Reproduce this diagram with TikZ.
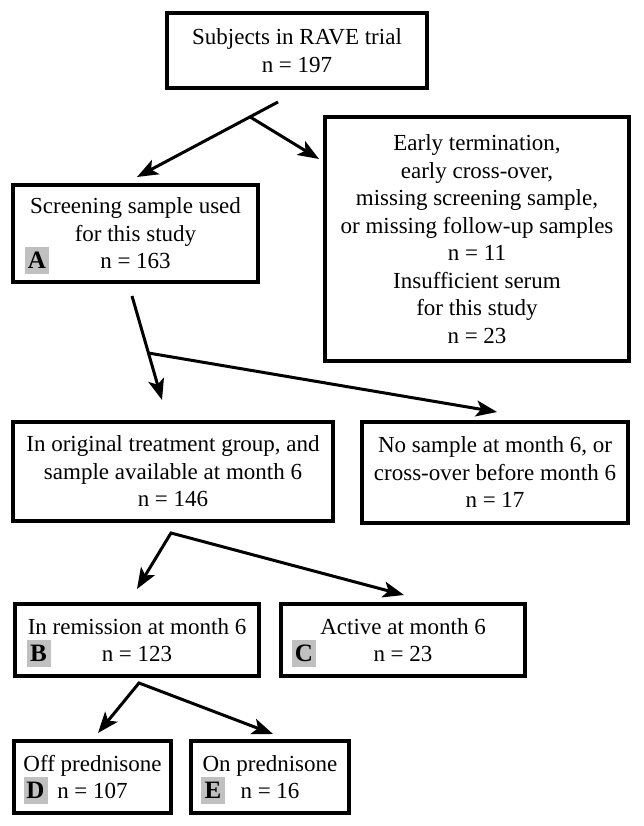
\documentclass[tikz,border=0pt]{standalone}
\usepackage{fontspec}
\setmainfont{Liberation Serif}
\usetikzlibrary{arrows.meta}
\definecolor{lblgray}{RGB}{192,192,192}
\begin{document}
\begin{tikzpicture}[x=1pt,y=-1pt,
  box/.style={draw, line width=3.2pt, inner sep=0pt, align=center,
    font=\fontsize{23}{27.5}\selectfont},
  lbl/.style={fill=lblgray, inner sep=0pt, minimum width=24pt, minimum height=27pt,
    font=\fontsize{25}{25}\selectfont\bfseries},
  conn/.style={line width=3pt, -{Stealth[length=21pt,width=16pt,inset=5pt]}},
  conntwo/.style={line width=3pt, line join=miter,
    {Stealth[length=21pt,width=16pt,inset=5pt]}-{Stealth[length=21pt,width=16pt,inset=5pt]}}]
\useasboundingbox (0,0) rectangle (643,826);

% boxes
\node[box, minimum width=260pt, minimum height=75pt] (top) at (297,50.5)
  {Subjects in RAVE trial\\n = 197};
\node[box, minimum width=304pt, minimum height=244pt] (excl) at (477,239)
  {Early termination,\\early cross-over,\\missing screening sample,\\or missing follow-up samples\\n = 11\\Insufficient serum\\for this study\\n = 23};
\node[box, minimum width=245pt, minimum height=97pt] (scr) at (135.5,233.5)
  {Screening sample used\\for this study\\n = 163};
\node[box, minimum width=320pt, minimum height=99pt] (orig) at (173,471.5)
  {In original treatment group, and\\sample available at month 6\\n = 146};
\node[box, minimum width=266pt, minimum height=101pt] (nos) at (495,472.5)
  {No sample at month 6, or\\cross-over before month 6\\n = 17};
\node[box, minimum width=244pt, minimum height=72pt] (rem) at (137,640)
  {In remission at month 6\\n = 123};
\node[box, minimum width=244pt, minimum height=72pt] (act) at (403,640)
  {Active at month 6\\n = 23};
\node[box, minimum width=157pt, minimum height=72pt] (off) at (92.5,777)
  {Off prednisone\\n = 107};
\node[box, minimum width=158pt, minimum height=72pt] (on) at (270,777)
  {On prednisone\\n = 16};

% letter labels
\node[lbl] (la) at (37,260.5) {A};
\node[lbl] (lb) at (38.5,653.5) {B};
\node[lbl] (lc) at (304,653.5) {C};
\node[lbl] (ld) at (35.5,790) {D};
\node[lbl] (le) at (213,790) {E};

% connector points
\coordinate (s1) at (278,102);
\coordinate (k1) at (250,116.9);
\coordinate (t1) at (137,177);
\coordinate (t2) at (319,159);
\coordinate (s2) at (132,296);
\coordinate (k2) at (148.4,353);
\coordinate (t3) at (162,400);
\coordinate (t4) at (497,412);
\coordinate (a3) at (171,533);
\coordinate (t5) at (137,589);
\coordinate (t6) at (404,595);
\coordinate (a4) at (139,683);
\coordinate (t7) at (98,733);
\coordinate (t8) at (273,734);

% connectors
\draw[conn] (s1) -- (t1);
\draw[conn] (k1) -- (t2);
\draw[conn] (s2) -- (t3);
\draw[conn] (k2) -- (t4);
\draw[conntwo] (t5) -- (a3) -- (t6);
\draw[conntwo] (t7) -- (a4) -- (t8);
\end{tikzpicture}
\end{document}
